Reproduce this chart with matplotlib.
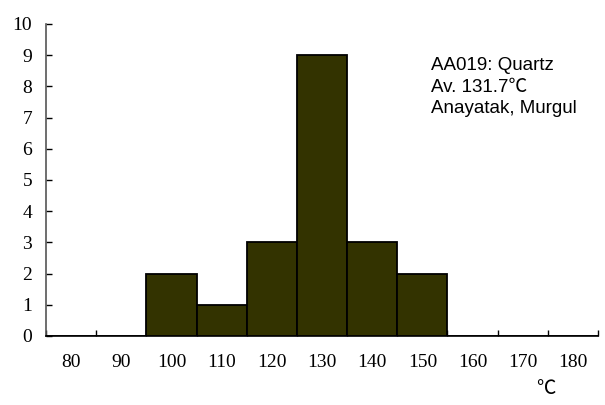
import matplotlib
matplotlib.use("Agg")
import matplotlib.pyplot as plt
import numpy as np

categories = [80, 90, 100, 110, 120, 130, 140, 150, 160, 170, 180]
counts = [0, 0, 2, 1, 3, 9, 3, 2, 0, 0, 0]
y_ticks = list(range(0, 11))
info_lines = ["AA019: Quartz", "Av. 131.7\u2103", "Anayatak, Murgul"]
x_unit = "\u2103"

fig = plt.figure(figsize=(6.05, 4.05), dpi=100)
ax = fig.add_axes([46/605, (405-336)/405, (598-46)/605, (336-24)/405])

ax.bar(categories, counts, width=10, color="#333300", edgecolor="black", linewidth=1.3, zorder=3)

ax.set_xlim(75, 185)
ax.set_ylim(0, 10)
ax.set_xticks(categories)
ax.set_xticklabels([str(c) for c in categories], family="Liberation Serif", fontsize=14)
ax.set_xticks([c - 5 for c in categories] + [185], minor=True)
ax.tick_params(axis="x", which="major", length=0, pad=13)
ax.tick_params(axis="x", which="minor", length=4, direction="in", width=1)
ax.set_yticks(y_ticks)
ax.set_yticklabels([str(v) for v in y_ticks], family="Liberation Serif", fontsize=14)
ax.tick_params(axis="y", length=4.5, direction="in", width=1, pad=10)

for s in ["top", "right"]:
    ax.spines[s].set_visible(False)
ax.spines["left"].set_color("#555555")
ax.spines["left"].set_linewidth(1.2)
ax.spines["bottom"].set_linewidth(1.2)

baselines = [70, 91.7, 113.4]
for line, yb in zip(info_lines, baselines):
    fig.text(431/605, 1 - yb/405, line, family=["Liberation Sans", "Noto Sans CJK JP"],
             fontsize=13.5, va="baseline", ha="left")
fig.text(546/605, 1 - 389/405, x_unit, family=["Noto Sans CJK JP", "DejaVu Sans"],
         fontsize=14, va="center", ha="center")

fig.savefig("out.png", dpi=100)
